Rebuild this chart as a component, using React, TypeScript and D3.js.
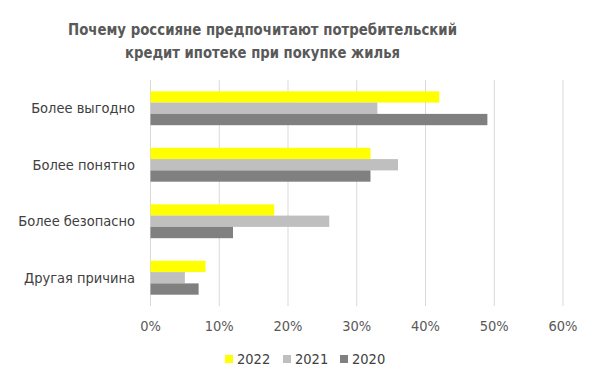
import React from "react";
import * as d3 from "d3";

const categories = ["Более выгодно", "Более понятно", "Более безопасно", "Другая причина"];
const seriesNames = ["2022", "2021", "2020"];
const values2022 = [42, 32, 18, 8];
const values2021 = [33, 36, 26, 5];
const values2020 = [49, 32, 12, 7];
const seriesColors = ["#FFFF00", "#BFBFBF", "#808080"];
const xTicks = [0, 10, 20, 30, 40, 50, 60];
const titleLines = ["Почему россияне предпочитают потребительский", "кредит ипотеке при покупке жилья"];
const titleWidths = [389, 275];

const W = 600;
const H = 377;
const font = "'DejaVu Sans Condensed', 'DejaVu Sans', sans-serif";

export default function App() {
  const series = [values2022, values2021, values2020];
  const x = d3.scaleLinear().domain([0, 60]).range([150.5, 563]);
  const y = d3.scaleBand<string>().domain(categories).range([80, 306]).paddingInner(0.4).paddingOuter(0.2);
  const inner = d3.scaleBand<string>().domain(seriesNames).range([0, y.bandwidth()]);
  const legendX = [225, 283, 340];

  return (
    <svg width={W} height={H} style={{ position: "fixed", left: 0, top: 0, background: "#fff" }} fontFamily={font}>
      <rect width={W} height={H} fill="#fff" />
      {titleLines.map((t, i) => (
        <text
          key={i}
          x={262.5}
          y={34.5 + i * 23}
          textAnchor="middle"
          fontSize={15.5}
          fontWeight="bold"
          fill="#595959"
          textLength={titleWidths[i]}
          lengthAdjust="spacingAndGlyphs"
        >
          {t}
        </text>
      ))}
      {xTicks.map((t) => (
        <g key={t}>
          <line x1={x(t)} x2={x(t)} y1={80} y2={306} stroke="#d9d9d9" strokeWidth={1} />
          <text x={x(t)} y={326} dy="0.35em" textAnchor="middle" fontSize={14.5} fill="#595959">
            {t}%
          </text>
        </g>
      ))}
      {categories.map((c, ci) => (
        <g key={c}>
          {series.map((vals, si) => (
            <rect
              key={si}
              x={x(0)}
              y={(y(c) as number) + (inner(seriesNames[si]) as number)}
              width={x(vals[ci]) - x(0)}
              height={inner.bandwidth()}
              fill={seriesColors[si]}
            />
          ))}
          <text x={135} y={(y(c) as number) + y.bandwidth() / 2} dy="0.35em" textAnchor="end" fontSize={14.5} fill="#404040">
            {c}
          </text>
        </g>
      ))}
      {seriesNames.map((s, i) => (
        <g key={s}>
          <rect x={legendX[i]} y={355} width={8} height={8} fill={seriesColors[i]} />
          <text x={legendX[i] + 12} y={359} dy="0.35em" fontSize={14.5} fill="#404040">
            {s}
          </text>
        </g>
      ))}
    </svg>
  );
}
